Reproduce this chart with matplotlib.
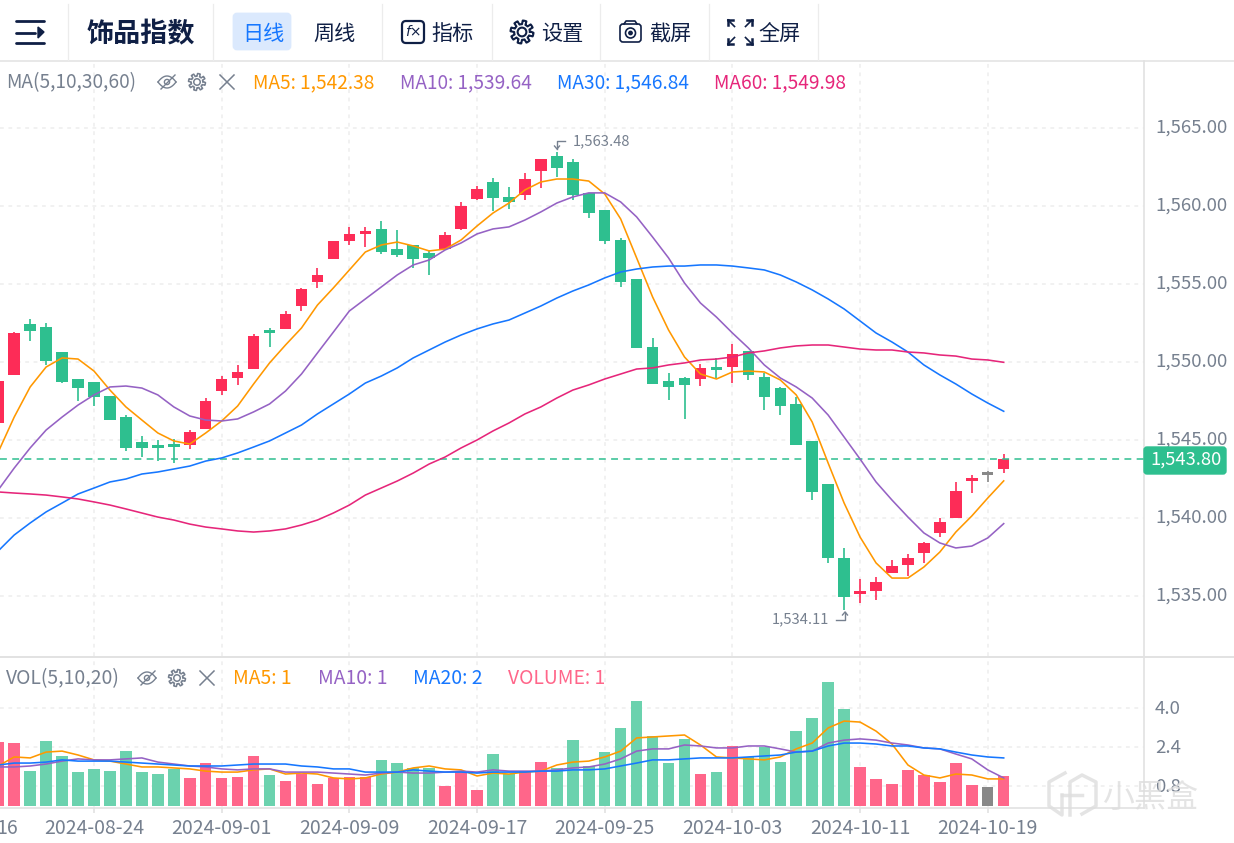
import numpy as np
import matplotlib
matplotlib.use('Agg')
import matplotlib.pyplot as plt
from matplotlib.patches import FancyBboxPatch, Circle
from matplotlib.transforms import ScaledTranslation

plt.rcParams['font.family'] = ['Noto Sans CJK SC', 'DejaVu Sans']

# day number, 0 is 2024-08-24
days = list(range(-6, 58))
tick_days = [0, 8, 16, 24, 32, 40, 48, 56]
tick_dates = ['2024-08-24', '2024-09-01', '2024-09-09', '2024-09-17',
              '2024-09-25', '2024-10-03', '2024-10-11', '2024-10-19']
gray_day = 56

opens = [1546.09, 1549.17, 1552.44, 1552.24, 1550.64, 1548.91, 1548.72, 1547.82, 1546.47, 1544.87, 1544.68, 1544.74,
         1544.68, 1545.71, 1548.14, 1548.98, 1549.55, 1552.05, 1552.12, 1553.59, 1555.13, 1556.60, 1557.76, 1558.21,
         1558.53, 1557.24, 1557.50, 1556.99, 1557.24, 1558.53, 1560.45, 1561.54, 1560.58, 1560.71, 1562.24, 1563.21,
         1562.82, 1560.84, 1559.74, 1557.82, 1555.32, 1550.96, 1548.78, 1548.98, 1548.91, 1549.68, 1549.68, 1550.71,
         1549.04, 1548.33, 1547.31, 1544.94, 1542.18, 1537.44, 1535.13, 1535.32, 1536.47, 1536.99, 1537.76, 1539.04,
         1540.00, 1542.37, 1542.76, 1543.14]
closes = [1548.78, 1551.86, 1551.99, 1550.06, 1548.72, 1548.33, 1547.76, 1546.28, 1544.49, 1544.49, 1544.49, 1544.55,
          1545.51, 1547.50, 1548.91, 1549.36, 1551.67, 1551.86, 1553.08, 1554.68, 1555.58, 1557.76, 1558.21, 1558.40,
          1557.05, 1556.86, 1556.60, 1556.67, 1558.14, 1560.00, 1561.09, 1560.51, 1560.26, 1561.73, 1563.01, 1562.44,
          1560.71, 1559.55, 1557.76, 1555.13, 1550.90, 1548.59, 1548.40, 1548.53, 1549.62, 1549.49, 1550.51, 1549.17,
          1547.76, 1547.18, 1544.68, 1541.67, 1537.44, 1534.94, 1535.32, 1535.90, 1536.92, 1537.44, 1538.40, 1539.74,
          1541.73, 1542.57, 1542.95, 1543.80]
highs = [1548.78, 1551.92, 1552.76, 1552.50, 1550.64, 1548.91, 1548.72, 1547.82, 1546.60, 1545.26, 1545.00, 1545.06,
         1545.64, 1547.69, 1549.10, 1549.81, 1551.80, 1552.18, 1553.27, 1554.75, 1556.03, 1557.76, 1558.66, 1558.66,
         1559.04, 1558.46, 1557.50, 1557.18, 1558.33, 1560.26, 1561.28, 1561.79, 1561.22, 1562.12, 1563.01, 1563.48,
         1563.01, 1560.84, 1559.74, 1557.95, 1555.32, 1551.54, 1549.30, 1549.04, 1549.87, 1550.26, 1551.15, 1550.71,
         1549.30, 1548.40, 1547.76, 1544.94, 1542.18, 1538.08, 1536.09, 1536.22, 1537.31, 1537.69, 1538.46, 1540.00,
         1542.31, 1542.76, 1543.01, 1544.10]
lows = [1546.09, 1549.17, 1551.35, 1549.81, 1548.65, 1547.50, 1547.18, 1546.28, 1544.29, 1543.91, 1543.65, 1543.52,
        1544.42, 1545.71, 1547.89, 1548.53, 1549.55, 1550.96, 1552.12, 1553.27, 1554.75, 1556.60, 1557.50, 1557.37,
        1556.92, 1556.73, 1556.03, 1555.58, 1557.24, 1558.46, 1560.38, 1559.68, 1559.81, 1560.38, 1561.15, 1561.86,
        1560.38, 1559.23, 1557.56, 1554.81, 1550.90, 1548.59, 1547.56, 1546.35, 1548.46, 1548.98, 1548.65, 1548.85,
        1546.92, 1546.60, 1544.68, 1541.15, 1537.12, 1534.11, 1534.55, 1534.74, 1536.47, 1536.28, 1537.12, 1538.78,
        1540.00, 1541.60, 1542.31, 1542.88]

ma5 = [1544.23, 1546.47, 1548.40, 1549.68, 1550.26, 1550.19, 1549.42, 1548.20, 1547.12, 1546.28, 1545.45, 1544.94,
       1544.74, 1545.45, 1546.22, 1547.18, 1548.59, 1549.94, 1551.09, 1552.18, 1553.65, 1554.75, 1555.90, 1557.05,
       1557.50, 1557.69, 1557.44, 1557.12, 1557.24, 1557.82, 1558.72, 1559.55, 1560.19, 1561.03, 1561.54, 1561.73,
       1561.73, 1561.60, 1560.77, 1559.17, 1556.67, 1554.17, 1552.05, 1550.32, 1549.23, 1548.91, 1549.36, 1549.42,
       1549.36, 1548.85, 1547.89, 1546.15, 1543.52, 1540.96, 1538.78, 1537.12, 1536.15, 1536.15, 1536.86, 1537.82,
       1539.10, 1540.13, 1541.28, 1542.38]
ma10 = [1541.80, 1543.20, 1544.49, 1545.64, 1546.47, 1547.24, 1547.89, 1548.40, 1548.46, 1548.33, 1547.89, 1547.12,
        1546.54, 1546.28, 1546.22, 1546.35, 1546.80, 1547.31, 1548.14, 1549.23, 1550.58, 1551.92, 1553.27, 1554.04,
        1554.81, 1555.58, 1556.22, 1556.54, 1557.18, 1557.63, 1558.21, 1558.53, 1558.66, 1559.10, 1559.62, 1560.19,
        1560.58, 1560.84, 1560.84, 1560.26, 1559.30, 1558.01, 1556.67, 1555.06, 1553.78, 1552.88, 1551.86, 1550.90,
        1549.81, 1548.98, 1548.40, 1547.69, 1546.60, 1545.19, 1543.78, 1542.31, 1541.15, 1540.06, 1539.04, 1538.40,
        1538.08, 1538.20, 1538.72, 1539.64]
ma30 = [1537.89, 1538.91, 1539.68, 1540.39, 1540.96, 1541.54, 1541.92, 1542.31, 1542.50, 1542.82, 1542.95, 1543.14,
        1543.33, 1543.65, 1543.85, 1544.17, 1544.55, 1544.94, 1545.45, 1545.96, 1546.67, 1547.31, 1547.95, 1548.65,
        1549.10, 1549.62, 1550.26, 1550.77, 1551.28, 1551.73, 1552.12, 1552.44, 1552.69, 1553.14, 1553.59, 1554.10,
        1554.55, 1554.94, 1555.39, 1555.77, 1555.96, 1556.09, 1556.15, 1556.15, 1556.22, 1556.22, 1556.15, 1556.03,
        1555.90, 1555.58, 1555.13, 1554.62, 1554.04, 1553.40, 1552.63, 1551.86, 1551.28, 1550.64, 1549.81, 1549.17,
        1548.59, 1547.95, 1547.37, 1546.84]
ma60 = [1541.67, 1541.60, 1541.54, 1541.47, 1541.35, 1541.22, 1541.03, 1540.83, 1540.58, 1540.32, 1540.06, 1539.87,
        1539.61, 1539.42, 1539.30, 1539.17, 1539.10, 1539.17, 1539.30, 1539.55, 1539.87, 1540.32, 1540.83, 1541.47,
        1541.92, 1542.37, 1542.88, 1543.46, 1543.91, 1544.49, 1545.00, 1545.58, 1546.09, 1546.67, 1547.12, 1547.69,
        1548.20, 1548.53, 1548.91, 1549.23, 1549.55, 1549.62, 1549.81, 1549.94, 1550.13, 1550.19, 1550.32, 1550.58,
        1550.71, 1550.90, 1551.03, 1551.09, 1551.09, 1550.96, 1550.83, 1550.77, 1550.77, 1550.64, 1550.58, 1550.45,
        1550.38, 1550.19, 1550.13, 1549.98]

volume = [2.62, 2.58, 1.43, 2.66, 2.05, 1.39, 1.52, 1.43, 2.25, 1.39, 1.31, 1.52,
          1.15, 1.76, 1.15, 1.19, 2.05, 1.27, 1.02, 1.31, 0.90, 1.15, 1.19, 1.19,
          1.89, 1.76, 1.56, 1.56, 0.82, 1.43, 0.66, 2.13, 1.31, 1.43, 1.80, 1.56,
          2.70, 1.64, 2.21, 3.20, 4.30, 2.87, 1.76, 2.75, 1.31, 1.39, 2.46, 2.01,
          2.42, 1.80, 3.07, 3.61, 5.08, 3.98, 1.60, 1.11, 0.90, 1.48, 1.27, 0.98,
          1.76, 0.86, 0.78, 1.23]
vol_ma5 = [1.64, 2.01, 1.97, 2.21, 2.25, 2.09, 1.89, 1.84, 1.72, 1.60, 1.60, 1.56,
           1.52, 1.43, 1.39, 1.39, 1.48, 1.52, 1.31, 1.35, 1.31, 1.15, 1.11, 1.15,
           1.31, 1.39, 1.56, 1.64, 1.52, 1.48, 1.23, 1.35, 1.31, 1.39, 1.43, 1.68,
           1.80, 1.84, 2.01, 2.25, 2.79, 2.83, 2.87, 2.91, 2.50, 2.01, 1.97, 1.93,
           1.89, 2.01, 2.34, 2.58, 3.20, 3.48, 3.44, 3.07, 2.54, 1.68, 1.27, 1.15,
           1.31, 1.27, 1.11, 1.11]
vol_ma10 = [1.60, 1.60, 1.64, 1.72, 1.84, 1.93, 1.89, 1.89, 1.93, 1.97, 1.80, 1.72,
            1.64, 1.60, 1.52, 1.48, 1.52, 1.52, 1.39, 1.39, 1.39, 1.35, 1.31, 1.27,
            1.35, 1.39, 1.35, 1.35, 1.39, 1.43, 1.39, 1.48, 1.43, 1.43, 1.43, 1.48,
            1.56, 1.60, 1.72, 1.93, 2.25, 2.34, 2.34, 2.50, 2.46, 2.38, 2.38, 2.46,
            2.46, 2.34, 2.21, 2.25, 2.58, 2.70, 2.75, 2.70, 2.58, 2.50, 2.38, 2.34,
            2.13, 1.93, 1.48, 1.15]
vol_ma20 = [1.68, 1.76, 1.76, 1.80, 1.89, 1.84, 1.84, 1.84, 1.80, 1.76, 1.72, 1.68,
            1.64, 1.64, 1.64, 1.68, 1.72, 1.72, 1.72, 1.64, 1.60, 1.52, 1.52, 1.39,
            1.39, 1.39, 1.48, 1.43, 1.39, 1.39, 1.35, 1.39, 1.39, 1.39, 1.43, 1.43,
            1.48, 1.48, 1.52, 1.64, 1.76, 1.89, 1.89, 1.93, 1.97, 1.97, 1.97, 2.01,
            2.05, 2.09, 2.21, 2.25, 2.46, 2.58, 2.58, 2.54, 2.46, 2.46, 2.38, 2.34,
            2.21, 2.09, 2.01, 1.97]

price_ticks = [1535, 1540, 1545, 1550, 1555, 1560, 1565]
vol_ticks = [0.8, 2.4, 4.0]
last_price = 1543.80

RED = '#fd2c57'
GREEN = '#2ebf8f'
GRAY = '#888888'
VOL_RED = '#ff668a'
VOL_GREEN = '#6bd2ae'
ORANGE = '#ff9800'
PURPLE = '#9562c4'
BLUE = '#1677ff'
PINK = '#e6267a'
TEXT = '#76808f'
NAVY = '#0f1f45'
GRID = '#eeeeee'
EDGE = '#e2e2e2'
MARK = '#dedede'

W, H = 1234, 843
X_LEFT = -5.89
X_RIGHT = 65.79


def make_axes(fig, top, bottom):
    ax = fig.add_axes([0, (H - bottom) / H, 1144 / W, (bottom - top) / H])
    ax.set_xlim(X_LEFT, X_RIGHT)
    ax.set_xticks(tick_days)
    ax.yaxis.tick_right()
    ax.grid(True, color=GRID, linewidth=1.1, linestyle=(0, (2.5, 3)))
    ax.set_axisbelow(True)
    for s in ['top', 'left']:
        ax.spines[s].set_visible(False)
    for s in ['right', 'bottom']:
        ax.spines[s].set_color(EDGE)
        ax.spines[s].set_linewidth(1.2)
    ax.tick_params(axis='y', length=0, labelsize=13.4, labelcolor=TEXT, pad=8)
    return ax


def lift_labels(ax, px):
    # labels sit slightly above their grid lines in the original
    for label in ax.get_yticklabels():
        label.set_transform(label.get_transform() + ScaledTranslation(0, px / 100, fig.dpi_scale_trans))


def gear(ov, x, y, r, color, lw=1.1):
    t = np.linspace(0, 2 * np.pi, 97)
    rad = r * (0.84 + 0.16 * np.sign(np.sin(8 * t)))
    ov.plot(x + rad * np.cos(t), y + rad * np.sin(t), color=color, lw=lw)
    ov.add_patch(Circle((x, y), r * 0.38, fill=False, ec=color, lw=lw))


def eye(ov, x, y, color):
    t = np.linspace(-1, 1, 30)
    ov.plot(x + 9 * t, y - 6 * (1 - t ** 2), color=color, lw=1)
    ov.plot(x + 9 * t, y + 6 * (1 - t ** 2), color=color, lw=1)
    ov.add_patch(Circle((x, y), 2.6, fill=False, ec=color, lw=1))
    ov.plot([x - 6, x + 8], [y + 7, y - 7], color=color, lw=1)


def cross(ov, x, y, color):
    ov.plot([x - 7, x + 7], [y - 7, y + 7], color=color, lw=1.1)
    ov.plot([x - 7, x + 7], [y + 7, y - 7], color=color, lw=1.1)


def legend_row(ov, y, title, icon_x, items, size):
    ov.text(6, y + 1.5, title, color=TEXT, fontsize=size, va='center')
    eye(ov, icon_x, y + 1, TEXT)
    gear(ov, icon_x + 30, y + 1, 8.5, TEXT)
    cross(ov, icon_x + 60, y + 1, TEXT)
    for x, s, c in items:
        ov.text(x, y + 1.5, s, color=c, fontsize=size, va='center')


fig = plt.figure(figsize=(W / 100, H / 100), dpi=100)

# price panel
ax = make_axes(fig, 61, 656)
ax.set_ylim(1565 - (656 - 128) / 15.6, 1565 + (128 - 61) / 15.6)
ax.set_yticks(price_ticks)
ax.set_yticklabels(['{:,.2f}'.format(p) for p in price_ticks])
lift_labels(ax, 2)
ax.tick_params(axis='x', length=0, labelbottom=False)
ax.spines['bottom'].set_visible(False)

colors = []
vol_colors = []
for d, o, c in zip(days, opens, closes):
    if d == gray_day:
        colors.append(GRAY)
        vol_colors.append(GRAY)
    elif c >= o:
        colors.append(RED)
        vol_colors.append(VOL_RED)
    else:
        colors.append(GREEN)
        vol_colors.append(VOL_GREEN)

ax.vlines(days, lows, highs, colors=colors, linewidth=1.2, zorder=3)
ax.bar(days, np.array(closes) - np.array(opens), bottom=opens, width=0.72, color=colors, zorder=3)
ax.axhline(last_price, color=GREEN, linewidth=1.1, linestyle=(0, (4.5, 3.5)), zorder=4)
for series, c in [(ma5, ORANGE), (ma10, PURPLE), (ma30, BLUE), (ma60, PINK)]:
    ax.plot(days, series, color=c, linewidth=1.15, zorder=5)

# volume panel
vx = make_axes(fig, 657, 808)
vx.set_ylim(-2 / 24.4, (806 - 657) / 24.4)
vx.set_yticks(vol_ticks)
vx.set_yticklabels(['{:.1f}'.format(v) for v in vol_ticks])
lift_labels(vx, 1.5)
vx.set_xticklabels(tick_dates)
vx.tick_params(axis='x', length=3.5, width=1.2, color=EDGE, labelsize=14, labelcolor=TEXT, pad=4)
vx.bar(days, volume, width=0.72, color=vol_colors, zorder=2)
for series, c in [(vol_ma5, ORANGE), (vol_ma10, PURPLE), (vol_ma20, BLUE)]:
    vx.plot(days, series, color=c, linewidth=1.15, zorder=4)

# toolbar and everything else that sits on top, in pixels
ov = fig.add_axes([0, 0, 1, 1], zorder=10)
ov.set_xlim(0, W)
ov.set_ylim(H, 0)
ov.axis('off')
ov.patch.set_alpha(0)

ov.plot([0, W], [60.5, 60.5], color=EDGE, lw=1.1)
ov.plot([0, W], [656.5, 656.5], color=EDGE, lw=1.4)
for x in [68, 213, 382, 491.5, 600, 709, 818]:
    ov.plot([x, x], [4, 60], color='#ececec', lw=0.9)

for y, x1 in [(21, 44), (33, 35), (43, 44)]:
    ov.plot([16, x1], [y, y], color=NAVY, lw=2, solid_capstyle='round')
ov.fill([38, 44, 38], [27, 32, 38], color=NAVY)

ov.text(141, 34, '饰品指数', color=NAVY, fontsize=19.5, fontweight='bold', ha='center', va='center')
ov.add_patch(FancyBboxPatch((234, 14), 56, 35, boxstyle='round,pad=0,rounding_size=3', fc='#dbe9fd', ec='#dbe9fd', lw=2))
ov.text(263, 34, '日线', color=BLUE, fontsize=15.2, ha='center', va='center')
ov.text(334, 34, '周线', color=NAVY, fontsize=15.2, ha='center', va='center')
ov.text(453, 34, '指标', color=NAVY, fontsize=15.2, ha='center', va='center')
ov.text(562, 34, '设置', color=NAVY, fontsize=15.2, ha='center', va='center')
ov.text(670.5, 34, '截屏', color=NAVY, fontsize=15.2, ha='center', va='center')
ov.text(779.5, 34, '全屏', color=NAVY, fontsize=15.2, ha='center', va='center')

ov.add_patch(FancyBboxPatch((402, 21), 22, 22, boxstyle='round,pad=0,rounding_size=4', fill=False, ec=NAVY, lw=1.6))
ov.text(413, 32, 'f×', color=NAVY, fontsize=10, style='italic', ha='center', va='center', family='DejaVu Sans')
gear(ov, 522, 32, 11.5, NAVY, lw=1.5)
ov.add_patch(FancyBboxPatch((620, 24), 21, 18, boxstyle='round,pad=0,rounding_size=3', fill=False, ec=NAVY, lw=1.2))
ov.add_patch(Circle((630.5, 33), 5, fill=False, ec=NAVY, lw=1.2))
ov.add_patch(Circle((630.5, 33), 1.7, fill=True, color=NAVY))
ov.plot([624, 626, 635, 637], [24, 21, 21, 24], color=NAVY, lw=1.2)
for sx, sy in [(-1, -1), (1, -1), (-1, 1), (1, 1)]:
    ox, oy = 740 + sx * 12, 32 + sy * 12
    ov.plot([ox, ox - sx * 5], [oy, oy], color=NAVY, lw=1.8)
    ov.plot([ox, ox], [oy, oy - sy * 5], color=NAVY, lw=1.8)
    ov.plot([ox, ox - sx * 6.5], [oy, oy - sy * 6.5], color=NAVY, lw=1.2)

legend_row(ov, 81, 'MA(5,10,30,60)', 167, [
    (253, 'MA5: 1,542.38', ORANGE), (400, 'MA10: 1,539.64', PURPLE),
    (557, 'MA30: 1,546.84', BLUE), (714, 'MA60: 1,549.98', PINK)], 13.75)
legend_row(ov, 677, 'VOL(5,10,20)', 147, [
    (233, 'MA5: 1', ORANGE), (318, 'MA10: 1', PURPLE),
    (413, 'MA20: 2', BLUE), (508, 'VOLUME: 1', VOL_RED)], 13.9)

# first date is cut by the left edge in the original, only its day shows
ov.text(-4, 828, '16', color=TEXT, fontsize=14, ha='left', va='center')

# markers of the highest and lowest price
ov.plot([565, 557, 557], [141, 141, 149], color=TEXT, lw=1)
ov.plot([554.5, 557, 559.5], [146, 149, 146], color=TEXT, lw=1)
ov.text(573, 141.5, '1,563.48', color=TEXT, fontsize=10.6, va='center', ha='left')
ov.plot([836, 845, 845], [620, 620, 612], color=TEXT, lw=1)
ov.plot([842.5, 845, 847.5], [615, 612, 615], color=TEXT, lw=1)
ov.text(829, 619, '1,534.11', color=TEXT, fontsize=10.6, va='center', ha='right')

# last price box
ov.add_patch(FancyBboxPatch((1144, 447), 82, 27, boxstyle='round,pad=0,rounding_size=3', fc=GREEN, ec=GREEN, lw=1))
ov.text(1185.5, 459.5, '{:,.2f}'.format(last_price), color='white', fontsize=13.2, ha='center', va='center')

# watermark
ov.text(1102, 798, '小黑盒', color=MARK, alpha=0.8, fontsize=23, ha='left', va='center')
ov.plot([1065, 1049, 1049, 1062, 1062], [773, 782, 806, 815, 795], color=MARK, lw=2.5, alpha=0.8)
ov.plot([1070, 1070, 1082, 1096, 1096, 1082], [815, 782, 775, 782, 806, 814], color=MARK, lw=2.5, alpha=0.8)
ov.plot([1062, 1082], [795, 795], color=MARK, lw=2.5, alpha=0.8)

fig.savefig('out.png', dpi=100)
